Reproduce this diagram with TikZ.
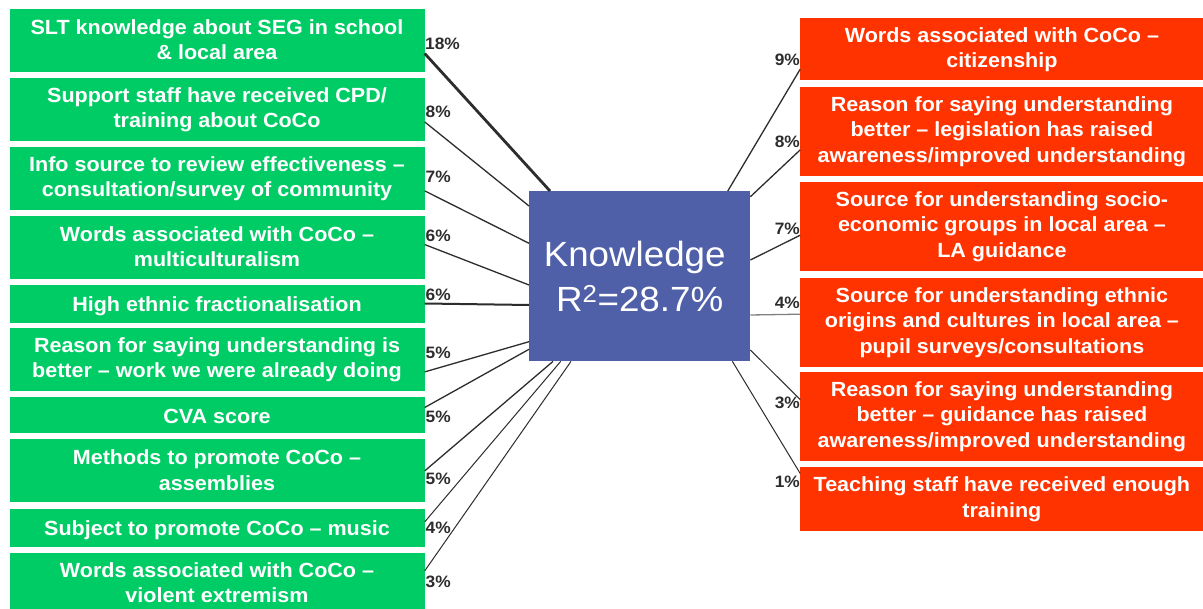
\documentclass[tikz,border=0pt]{standalone}
\usepackage{fontspec}
\setmainfont{Liberation Sans}[FakeStretch=1.05]
\definecolor{gbox}{RGB}{0,204,102}
\definecolor{rbox}{RGB}{255,51,0}
\definecolor{kbox}{RGB}{79,96,168}
\definecolor{lnc}{RGB}{45,45,45}
\newcommand\myStrA{\rule{0pt}{19pt}}
\newcommand\myStrD{\rule[-2pt]{0pt}{2pt}}
\begin{document}
\begin{tikzpicture}[x=1pt,y=-1pt,
  boxbase/.style={draw=none, inner sep=0pt, text=white, align=center,
    font=\bfseries\fontsize{20.5}{25.5}\selectfont,
    execute at begin node=\myStrA, execute at end node=\myStrD},
  gb/.style={boxbase, fill=gbox, anchor=north west, minimum width=415pt},
  rb/.style={boxbase, fill=rbox, anchor=north west, minimum width=403pt},
  pctl/.style={inner sep=0pt, text=lnc, font=\bfseries\fontsize{16.5}{20}\selectfont, anchor=west},
  pctr/.style={inner sep=0pt, text=lnc, font=\bfseries\fontsize{16.5}{20}\selectfont, anchor=east},
  ln/.style={draw=lnc, line width=1.3pt},
]
\useasboundingbox (0,0) rectangle (1203,609);
\fill[white] (0,0) rectangle (1203,609);

% centre
\node[fill=kbox, inner sep=0pt, anchor=north west, minimum width=221pt, minimum height=170pt] (kn) at (529,191) {};
\node[text=white, inner sep=0pt, align=center, font=\fontsize{35}{45}\selectfont] (kt) at (kn.center) {Knowledge\hspace*{10pt}\\R\textsuperscript{2}=28.7\%};

% left boxes
\node[gb, minimum height=62.4pt] (b1) at (9.3,9.3) {SLT knowledge about SEG in school\\\& local area};
\node[gb, minimum height=62.4pt] (b2) at (9.3,78.3) {Support staff have received CPD/\\training about CoCo};
\node[gb, minimum height=62.7pt] (b3) at (9.3,147.3) {Info source to review effectiveness –\\consultation/survey of community};
\node[gb, minimum height=62.7pt] (b4) at (9.3,216) {Words associated with CoCo –\\multiculturalism};
\node[gb, minimum height=37.4pt] (b5) at (9.3,285.3) {High ethnic fractionalisation};
\node[gb, minimum height=62.4pt] (b6) at (9.3,328.3) {Reason for saying understanding is\\better – work we were already doing};
\node[gb, minimum height=36pt] (b7) at (9.3,397.3) {CVA score};
\node[gb, minimum height=63pt] (b8) at (9.3,439.3) {Methods to promote CoCo –\\assemblies};
\node[gb, minimum height=37.4pt] (b9) at (9.3,509.3) {Subject to promote CoCo – music};
\node[gb, minimum height=62.4pt] (b10) at (9.3,552.3) {Words associated with CoCo –\\violent extremism};

% right boxes
\node[rb, minimum height=62pt] (r1) at (800.2,18.3) {Words associated with CoCo –\\citizenship};
\node[rb, minimum height=89pt] (r2) at (800.2,86.7) {Reason for saying understanding\\better – legislation has raised\\awareness/improved understanding};
\node[rb, minimum height=88.4pt] (r3) at (800.2,182.3) {Source for understanding socio-\\economic groups in local area –\\LA guidance};
\node[rb, minimum height=89pt] (r4) at (800.2,277.7) {Source for understanding ethnic\\origins and cultures in local area –\\pupil surveys/consultations};
\node[rb, minimum height=88.7pt] (r5) at (800.2,372) {Reason for saying understanding\\better – guidance has raised\\awareness/improved understanding};
\node[rb, minimum height=63.4pt] (r6) at (800.2,467.3) {Teaching staff have received enough\\training};

% left connectors
\draw[ln, line width=2.8pt] ([yshift=-12.8pt]b1.east) -- ([xshift=21pt]kn.north west);
\draw[ln] ([yshift=-12.2pt]b2.east) -- ([yshift=-15pt]kn.north west);
\draw[ln] ([yshift=-12pt]b3.east) -- ([yshift=-52.3pt]kn.north west);
\draw[ln] ([yshift=3pt]b4.east) -- ([yshift=-94pt]kn.north west);
\draw[ln, line width=2pt] ([yshift=0.7pt]b5.east) -- ([yshift=-114pt]kn.north west);
\draw[ln] ([yshift=-12.2pt]b6.east) -- ([yshift=-150.7pt]kn.north west);
\draw[ln] ([yshift=8pt]b7.east) -- ([yshift=-158.3pt]kn.north west);
\draw[ln] ([yshift=0.1pt]b8.east) -- ([xshift=24pt]kn.south west);
\draw[ln, line width=1pt] ([yshift=6.3pt]b9.east) -- ([xshift=31.7pt]kn.south west);
\draw[ln, line width=1pt] ([yshift=12.8pt]b10.east) -- ([xshift=42pt]kn.south west);

% right connectors
\draw[ln] ([xshift=-22.6pt]kn.north east) -- ([yshift=-19.7pt]r1.west);
\draw[ln] ([yshift=-5.7pt]kn.north east) -- ([yshift=-18.5pt]r2.west);
\draw[ln] ([yshift=-69pt]kn.north east) -- ([yshift=-8.5pt]r3.west);
\draw[ln, draw=gray] ([yshift=-124pt]kn.north east) -- ([yshift=8.2pt]r4.west);
\draw[ln, line width=1pt] ([yshift=-159pt]kn.north east) -- ([yshift=17pt]r5.west);
\draw[ln, line width=1pt] ([xshift=-18pt]kn.south east) -- ([yshift=25.7pt]r6.west);

% left percentages
\node[pctl] (p1) at (425,44) {18\%};
\node[pctl] (p2) at (425.5,112.3) {8\%};
\node[pctl] (p3) at (425.5,176.7) {7\%};
\node[pctl] (p4) at (425.5,235.7) {6\%};
\node[pctl] (p5) at (425.5,295) {6\%};
\node[pctl] (p6) at (425.5,353.3) {5\%};
\node[pctl] (p7) at (425.5,417.3) {5\%};
\node[pctl] (p8) at (425.5,479) {5\%};
\node[pctl] (p9) at (425.5,528.3) {4\%};
\node[pctl] (p10) at (425.5,581.7) {3\%};

% right percentages
\node[pctr] (q1) at (800,60) {9\%};
\node[pctr] (q2) at (800,141.7) {8\%};
\node[pctr] (q3) at (800,228.5) {7\%};
\node[pctr] (q4) at (800,302.5) {4\%};
\node[pctr] (q5) at (800,402.7) {3\%};
\node[pctr] (q6) at (800,481.7) {1\%};
\end{tikzpicture}
\end{document}
